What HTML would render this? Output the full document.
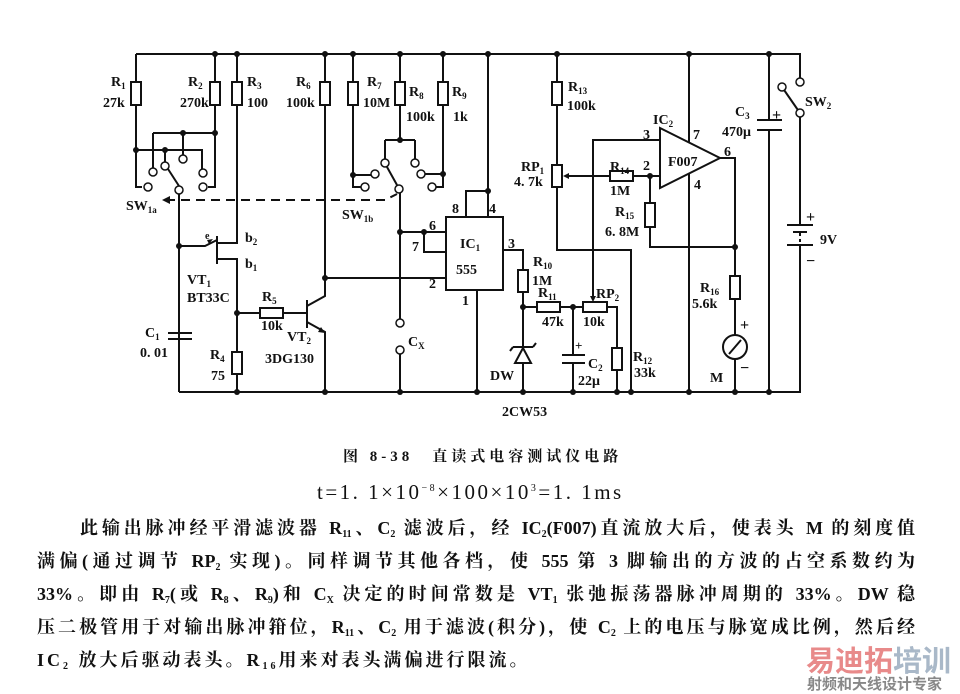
<!DOCTYPE html>
<html><head><meta charset="utf-8"><style>
body{margin:0;background:#fff;width:960px;height:694px;overflow:hidden;position:relative}
svg{position:absolute;left:0;top:0}
.t{position:absolute;font-family:"Liberation Serif","Noto Serif CJK SC","Noto Sans CJK SC",serif;font-weight:bold;color:#111;white-space:nowrap}
.ln{position:absolute;left:37px;width:878px;font-family:"Liberation Serif","Noto Serif CJK SC",serif;font-size:18px;font-weight:bold;text-align:justify;text-align-last:justify;color:#111;line-height:22px;white-space:nowrap}
sub{font-size:10px;vertical-align:-3px}
</style></head><body>
<svg width="960" height="694" viewBox="0 0 960 694" font-family="Liberation Serif,serif" font-weight="bold" font-size="14" fill="#111">
<g stroke="#111" stroke-width="2" fill="none">
<path d="M136 54H800V82M800 113V225M800 245V392H179"/>
<path d="M136 54V187H142"/><rect x="131" y="82" width="10" height="23" fill="#fff"/>
<path d="M215 54V187H208"/><rect x="210" y="82" width="10" height="23" fill="#fff"/>
<path d="M136 150H202V170M153 133H215M153 133V168M165 150V162M183 133V155"/>
<path d="M179 186L168 169M179 194V392"/>
<path d="M237 54V243H217"/><rect x="232" y="82" width="10" height="23" fill="#fff"/>
<path d="M217 236V264M179 246H205L217 240M217 259H237V392"/>
<rect x="232" y="352" width="10" height="22" fill="#fff"/>
<path d="M168 333H192M168 339H192"/>
<path d="M237 313H307M307 300V328M307 306L325 296V54M307 322L325 332V392M325 278H446"/>
<rect x="260" y="308" width="23" height="10" fill="#fff"/>
<rect x="320" y="82" width="10" height="23" fill="#fff"/>
<path d="M353 54V187H361M353 175H371"/><rect x="348" y="82" width="10" height="23" fill="#fff"/>
<path d="M400 54V140M385 140H415M385 140V159M415 140V159"/><rect x="395" y="82" width="10" height="23" fill="#fff"/>
<path d="M443 54V187H436M443 174H425"/><rect x="438" y="82" width="10" height="23" fill="#fff"/>
<path d="M397 185L387 167M400 193V319M400 354V392"/>
<path d="M400 232H446M424 232V252H446"/>
<rect x="446" y="217" width="57" height="73" fill="#fff"/>
<path d="M466 217V191H488M488 54V217M477 290V392M503 250H523V392"/>
<rect x="518" y="270" width="10" height="22" fill="#fff"/>
<path d="M523 307H617V362M617 370V392"/>
<rect x="537" y="302" width="23" height="10" fill="#fff"/>
<rect x="583" y="302" width="24" height="10" fill="#fff"/>
<rect x="612" y="348" width="10" height="22" fill="#fff"/>
<path d="M573 307V355M573 363V392M562 355H585M562 363H585"/>
<path d="M593 300V140H660"/>
<path d="M515 363H531L523 348Z" fill="#fff"/><path d="M513 347H533M513 347l-3 4M533 347l3-4"/>
<path d="M557 54V250H631V392"/>
<rect x="552" y="82" width="10" height="23" fill="#fff"/>
<rect x="552" y="165" width="10" height="22" fill="#fff"/>
<path d="M567 176H660M650 176V247H735"/>
<rect x="610" y="171" width="23" height="10" fill="#fff"/>
<rect x="645" y="203" width="10" height="24" fill="#fff"/>
<path d="M660 128L720 158L660 188Z" fill="#fff"/>
<path d="M689 54V142M689 173V392M720 158H735V392"/>
<rect x="730" y="276" width="10" height="23" fill="#fff"/>
<circle cx="735" cy="347" r="12" fill="#fff"/><path d="M729 354L741 340"/>
<path d="M769 54V120M769 130V392M757 120H782M757 130H782"/>
<path d="M782 87L800 113"/>
<path d="M787 225H813M793 232H807M787 245H813"/>
</g>
<g stroke="#111" stroke-width="2" stroke-dasharray="9,6" fill="none"><path d="M166 200H385L397 194"/><path d="M800 233V244" stroke-dasharray="3,3"/></g>
<path d="M162 200l8-4v8z"/><path d="M593 302l-3-6h6z"/><path d="M563 176l6-3v6z"/><path d="M325 333l-7-1 3-5z"/>
<path d="M213 239l-6 1 2 4z"/>
<g fill="#fff" stroke="#111" stroke-width="1.5">
<circle cx="148" cy="187" r="4"/><circle cx="153" cy="172" r="4"/><circle cx="165" cy="166" r="4"/><circle cx="183" cy="159" r="4"/><circle cx="203" cy="173" r="4"/><circle cx="203" cy="187" r="4"/><circle cx="179" cy="190" r="4"/>
<circle cx="365" cy="187" r="4"/><circle cx="375" cy="174" r="4"/><circle cx="385" cy="163" r="4"/><circle cx="415" cy="163" r="4"/><circle cx="421" cy="174" r="4"/><circle cx="432" cy="187" r="4"/><circle cx="399" cy="189" r="4"/>
<circle cx="400" cy="323" r="4"/><circle cx="400" cy="350" r="4"/>
<circle cx="782" cy="87" r="4"/><circle cx="800" cy="82" r="4"/><circle cx="800" cy="113" r="4"/>
</g>
<g>
<circle cx="215" cy="54" r="3"/><circle cx="237" cy="54" r="3"/><circle cx="325" cy="54" r="3"/><circle cx="353" cy="54" r="3"/><circle cx="400" cy="54" r="3"/><circle cx="443" cy="54" r="3"/><circle cx="488" cy="54" r="3"/><circle cx="557" cy="54" r="3"/><circle cx="689" cy="54" r="3"/><circle cx="769" cy="54" r="3"/>
<circle cx="136" cy="150" r="3"/><circle cx="165" cy="150" r="3"/><circle cx="183" cy="133" r="3"/><circle cx="215" cy="133" r="3"/>
<circle cx="353" cy="175" r="3"/><circle cx="400" cy="140" r="3"/><circle cx="443" cy="174" r="3"/>
<circle cx="179" cy="246" r="3"/><circle cx="237" cy="313" r="3"/><circle cx="325" cy="278" r="3"/><circle cx="400" cy="232" r="3"/><circle cx="424" cy="232" r="3"/><circle cx="488" cy="191" r="3"/>
<circle cx="523" cy="307" r="3"/><circle cx="573" cy="307" r="3"/><circle cx="650" cy="176" r="3"/><circle cx="735" cy="247" r="3"/>
<circle cx="237" cy="392" r="3"/><circle cx="325" cy="392" r="3"/><circle cx="400" cy="392" r="3"/><circle cx="477" cy="392" r="3"/><circle cx="523" cy="392" r="3"/><circle cx="573" cy="392" r="3"/><circle cx="617" cy="392" r="3"/><circle cx="631" cy="392" r="3"/><circle cx="689" cy="392" r="3"/><circle cx="735" cy="392" r="3"/><circle cx="769" cy="392" r="3"/>
</g>
<g>
<text x="111" y="86">R<tspan font-size="9" dy="3">1</tspan></text><text x="103" y="107">27k</text>
<text x="188" y="86">R<tspan font-size="9" dy="3">2</tspan></text><text x="180" y="107">270k</text>
<text x="247" y="86">R<tspan font-size="9" dy="3">3</tspan></text><text x="247" y="107">100</text>
<text x="296" y="86">R<tspan font-size="9" dy="3">6</tspan></text><text x="286" y="107">100k</text>
<text x="367" y="86">R<tspan font-size="9" dy="3">7</tspan></text><text x="363" y="107">10M</text>
<text x="409" y="96">R<tspan font-size="9" dy="3">8</tspan></text><text x="406" y="121">100k</text>
<text x="452" y="96">R<tspan font-size="9" dy="3">9</tspan></text><text x="453" y="121">1k</text>
<text x="126" y="210">SW<tspan font-size="9" dy="3">1a</tspan></text>
<text x="342" y="219">SW<tspan font-size="9" dy="3">1b</tspan></text>
<text x="205" y="239" font-size="10">e</text>
<text x="245" y="242">b<tspan font-size="9" dy="3">2</tspan></text><text x="245" y="268">b<tspan font-size="9" dy="3">1</tspan></text>
<text x="187" y="284">VT<tspan font-size="9" dy="3">1</tspan></text><text x="187" y="302">BT33C</text>
<text x="262" y="301">R<tspan font-size="9" dy="3">5</tspan></text><text x="261" y="330">10k</text>
<text x="287" y="341">VT<tspan font-size="9" dy="3">2</tspan></text><text x="265" y="363">3DG130</text>
<text x="145" y="337">C<tspan font-size="9" dy="3">1</tspan></text><text x="140" y="357">0. 01</text>
<text x="210" y="359">R<tspan font-size="9" dy="3">4</tspan></text><text x="211" y="380">75</text>
<text x="408" y="346">C<tspan font-size="9" dy="3">X</tspan></text>
<text x="460" y="248">IC<tspan font-size="9" dy="3">1</tspan></text><text x="456" y="274">555</text>
<text x="429" y="230">6</text><text x="412" y="251">7</text><text x="452" y="213">8</text><text x="489" y="213">4</text><text x="429" y="288">2</text><text x="462" y="305">1</text><text x="508" y="248">3</text>
<text x="568" y="91">R<tspan font-size="9" dy="3">13</tspan></text><text x="567" y="110">100k</text>
<text x="653" y="124">IC<tspan font-size="9" dy="3">2</tspan></text>
<text x="643" y="139">3</text><text x="693" y="139">7</text><text x="724" y="156">6</text><text x="643" y="170">2</text><text x="694" y="189">4</text>
<text x="668" y="166">F007</text>
<text x="521" y="171">RP<tspan font-size="9" dy="3">1</tspan></text><text x="514" y="186">4. 7k</text>
<text x="610" y="171">R<tspan font-size="9" dy="3">14</tspan></text><text x="610" y="195">1M</text>
<text x="615" y="216">R<tspan font-size="9" dy="3">15</tspan></text><text x="605" y="236">6. 8M</text>
<text x="735" y="116">C<tspan font-size="9" dy="3">3</tspan></text><text x="722" y="136">470μ</text>
<text x="772" y="120" font-size="16">+</text>
<text x="805" y="106">SW<tspan font-size="9" dy="3">2</tspan></text>
<text x="806" y="222" font-size="16">+</text><text x="820" y="244">9V</text><text x="806" y="266" font-size="16">−</text>
<text x="533" y="266">R<tspan font-size="9" dy="3">10</tspan></text><text x="532" y="285">1M</text>
<text x="538" y="297">R<tspan font-size="9" dy="3">11</tspan></text><text x="542" y="326">47k</text>
<text x="596" y="298">RP<tspan font-size="9" dy="3">2</tspan></text><text x="583" y="326">10k</text>
<text x="633" y="361">R<tspan font-size="9" dy="3">12</tspan></text><text x="634" y="377">33k</text>
<text x="588" y="368">C<tspan font-size="9" dy="3">2</tspan></text><text x="578" y="385">22μ</text><text x="575" y="350" font-size="13">+</text>
<text x="490" y="380">DW</text><text x="502" y="416">2CW53</text>
<text x="700" y="292">R<tspan font-size="9" dy="3">16</tspan></text><text x="692" y="308">5.6k</text>
<text x="710" y="382">M</text><text x="740" y="330" font-size="16">+</text><text x="740" y="373" font-size="16">−</text>
</g>
</svg>
<div class="t" style="left:343px;top:445px;font-size:15px;letter-spacing:4px">图 8-38　直读式电容测试仪电路</div>
<div class="t" style="left:317px;top:480px;font-size:21px;font-weight:normal;letter-spacing:2.5px">t=1. 1×10<sup style="font-size:10px">−8</sup>×100×10<sup style="font-size:10px">3</sup>=1. 1ms</div>
<div class="ln" style="top:517px;left:80px;width:835px">此输出脉冲经平滑滤波器 R<sub>11</sub>、C<sub>2</sub> 滤波后，经 IC<sub>2</sub>(F007)直流放大后，使表头 M 的刻度值</div>
<div class="ln" style="top:550px">满偏(通过调节 RP<sub>2</sub> 实现)。同样调节其他各档，使 555 第 3 脚输出的方波的占空系数约为</div>
<div class="ln" style="top:583px">33%。即由 R<sub>7</sub>(或 R<sub>8</sub>、R<sub>9</sub>)和 C<sub>X</sub> 决定的时间常数是 VT<sub>1</sub> 张弛振荡器脉冲周期的 33%。DW 稳</div>
<div class="ln" style="top:616px">压二极管用于对输出脉冲箝位，R<sub>11</sub>、C<sub>2</sub> 用于滤波(积分)，使 C<sub>2</sub> 上的电压与脉宽成比例，然后经</div>
<div class="ln" style="top:649px;text-align:left;text-align-last:left;letter-spacing:3px">IC<sub>2</sub> 放大后驱动表头。R<sub>16</sub>用来对表头满偏进行限流。</div>
<div class="t" style="left:806px;top:638px;font-size:29px;font-family:'Noto Sans CJK SC',sans-serif;color:#e88a8a">易迪拓<span style="color:#a9b8c8">培训</span></div>
<div class="t" style="left:807px;top:673px;font-size:15px;font-family:'Noto Sans CJK SC',sans-serif;color:#888">射频和天线设计专家</div>
</body></html>
